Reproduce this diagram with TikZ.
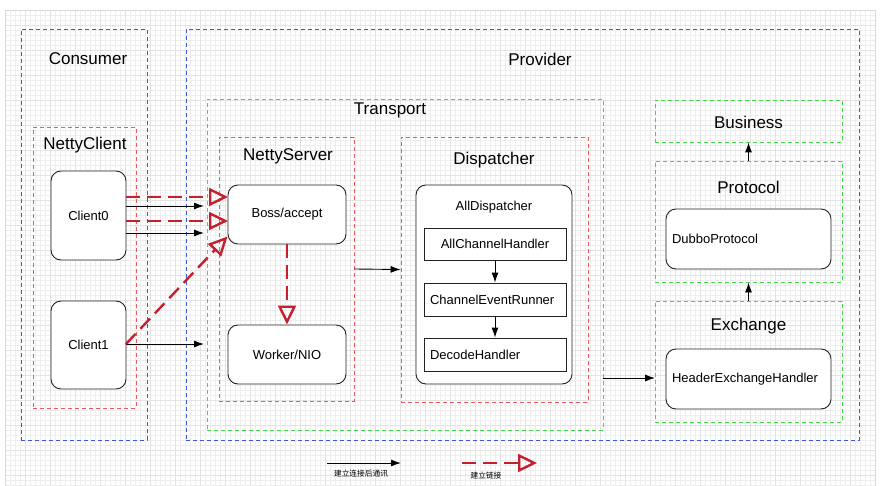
\documentclass[tikz,border=0pt]{standalone}
\usepackage{fontspec}
\setmainfont{Liberation Sans}
\newfontfamily\cjk{Noto Sans CJK SC}
\usetikzlibrary{arrows.meta,fit}
\definecolor{cblue}{HTML}{3A5BE0}
\definecolor{cred}{HTML}{EE5A5A}
\definecolor{cgreen}{HTML}{44D844}
\definecolor{dred}{HTML}{C4202E}
\definecolor{boxline}{HTML}{222222}
\tikzset{
  cont/.style={draw, dash pattern=on 4pt off 3pt, line width=0.9pt, inner sep=0pt, rectangle},
  bluec/.style={cont, draw=cblue},
  redc/.style={cont, draw=cred},
  greenc/.style={cont, draw=cgreen},
  bigl/.style={font=\fontsize{17}{20}\selectfont, text=black},
  rbox/.style={draw=boxline, fill=white, line width=0.9pt, rounded corners=10pt, font=\fontsize{13}{15}\selectfont, inner sep=0pt},
  hbox/.style={draw=boxline, fill=white, line width=0.9pt, font=\fontsize{13}{15}\selectfont, inner sep=0pt},
  smalll/.style={font=\fontsize{13}{15}\selectfont},
  blk/.style={draw=black, line width=0.9pt, -{Latex[length=10pt,width=7pt]}},
  rdash/.style={draw=dred, line width=2.4pt, dash pattern=on 14pt off 7pt, -{Triangle[open, length=19pt, width=18pt, line width=2.4pt]}},
  legtext/.style={font=\cjk\fontsize{7.7}{9}\selectfont},
  minorg/.style={line width=0.5pt, draw=gray!13},
  majorg/.style={line width=0.6pt, draw=gray!22},
}
\begin{document}
\begin{tikzpicture}[x=1pt,y=-1pt]
\useasboundingbox (0,0) rectangle (885,486);
\fill[white] (0,0) rectangle (885,486);
% grid background
\foreach \gx in {10,15,...,870} {\draw[minorg] (\gx,10) -- (\gx,486);}
\foreach \gy in {15,20,...,485} {\draw[minorg] (5,\gy) -- (875,\gy);}
\foreach \gx in {25,50,...,860} {\draw[majorg] (\gx,10) -- (\gx,486);}
\foreach \gy in {25,50,...,485} {\draw[majorg] (5,\gy) -- (875,\gy);}
\draw[line width=0.8pt, draw=gray!30] (5,486) -- (5,10) -- (875,10) -- (875,486);

% containers
\node[bluec, fit={(21,29) (147,440)}] (consumer) {};
\node[bluec, fit={(186,29) (859,440)}] (provider) {};
\node[redc, fit={(33,127) (136,408)}] (nettyclient) {};
\node[greenc, fit={(207,99) (603,430)}] (transport) {};
\node[redc, fit={(219,137) (354,401)}] (nettyserver) {};
\node[redc, fit={(401,137) (588,402)}] (dispatcher) {};
\node[greenc, fit={(655,100) (842,142)}] (business) {};
\node[greenc, fit={(655,161) (842,282)}] (protocol) {};
\node[greenc, fit={(655,301) (842,422)}] (exchange) {};

% container labels
\node[bigl] (lconsumer) at (88,59) {Consumer};
\node[bigl] (lprovider) at (540,59) {Provider};
\node[bigl] (ltransport) at (390,110) {Transport};
\node[bigl] (lnettyclient) at (85,145) {NettyClient};
\node[bigl] (lnettyserver) at (288,156) {NettyServer};
\node[bigl] (ldispatcher) at (494,160) {Dispatcher};
\node[bigl] (lbusiness) at (748.5,122) {Business};
\node[bigl] (lprotocol) at (748.5,187) {Protocol};
\node[bigl] (lexchange) at (748.5,326) {Exchange};

% boxes
\node[rbox, minimum width=75pt, minimum height=89pt] (c0) at (88.5,215.5) {Client0};
\node[rbox, minimum width=75pt, minimum height=88pt] (c1) at (88.5,345) {Client1};
\node[rbox, minimum width=118pt, minimum height=59pt] (boss) at (287,214.5) {Boss/accept};
\node[rbox, minimum width=118pt, minimum height=59pt] (worker) at (287,354.5) {Worker/NIO};
\node[rbox, minimum width=156pt, minimum height=199pt] (alldisp) at (494,284.5) {};
\node[smalll] (lalldisp) at (494,207) {AllDispatcher};
\node[hbox, minimum width=142pt, minimum height=32pt] (ach) at (495,244) {AllChannelHandler};
\node[hbox, minimum width=142pt, minimum height=33pt, text width=130pt, align=left] (cer) at (495,299.5) {ChannelEventRunner};
\node[hbox, minimum width=142pt, minimum height=33pt, text width=130pt, align=left] (dh) at (495,354.5) {DecodeHandler};
\node[rbox, minimum width=165pt, minimum height=60pt, text width=153pt, align=left] (dubbo) at (748.5,239) {DubboProtocol};
\node[rbox, minimum width=165pt, minimum height=60pt, text width=153pt, align=left] (hex) at (748.5,379) {HeaderExchangeHandler};

% coordinates for free ends
\coordinate (t1) at (204,206);
\coordinate (t2) at (204,233);
\coordinate (t3) at (204,344);
\coordinate (r1) at (228,197);
\coordinate (r2) at (228,221);
\coordinate (r3) at (227.5,236.5);
\coordinate (s3) at (126,344);
\coordinate (tx) at (655,378);

% client -> server arrows
\draw[blk] (c0.east|-t1) -- (t1);
\draw[blk] (c0.east|-t2) -- (t2);
\draw[blk] (c1.east|-t3) -- (t3);
\draw[rdash] (c0.east|-r1) -- (r1);
\draw[rdash] (c0.east|-r2) -- (r2);
\draw[rdash] (s3) -- (r3);
\draw[rdash] (boss.south) -- (worker.north);

% transport internal
\draw[blk] (nettyserver.east) -- (dispatcher.west);
\draw[blk] (ach.south) -- (cer.north);
\draw[blk] (cer.south) -- (dh.north);
\draw[blk] (transport.east|-tx) -- (tx);
\draw[blk] (exchange.north) -- (protocol.south);
\draw[blk] (protocol.north) -- (business.south);

% legend
\coordinate (la1) at (327,463);
\coordinate (la2) at (401,463);
\coordinate (lb1) at (462,463);
\coordinate (lb2) at (537,463);
\draw[blk] (la1) -- (la2);
\draw[rdash] (lb1) -- (lb2);
\node[legtext] (leg1) at (361,474) {建立连接后通讯};
\node[legtext] (leg2) at (486,476) {建立链接};
\end{tikzpicture}
\end{document}
